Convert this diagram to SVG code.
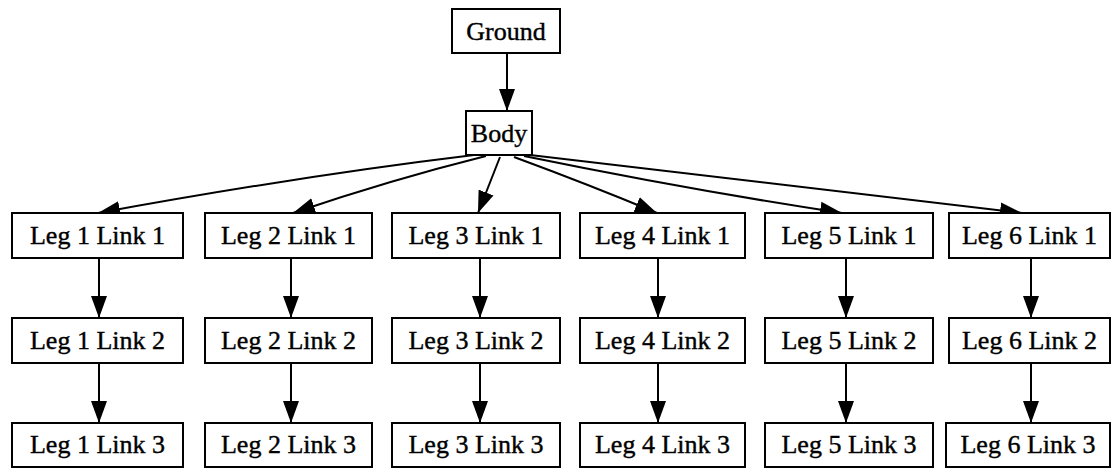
<svg xmlns="http://www.w3.org/2000/svg" width="1113" height="468" viewBox="0 0 1113 468">
<style>
.box{fill:#fff;stroke:#000;stroke-width:2}
.lbl{font-family:"Liberation Serif","Times New Roman",serif;font-size:26px;fill:#000;stroke:#000;stroke-width:0.4;text-anchor:middle}
.edge{fill:none;stroke:#000;stroke-width:2}
</style>
<defs>
<marker id="ah" markerUnits="userSpaceOnUse" markerWidth="22" markerHeight="17" refX="22" refY="8.5" orient="auto">
<path d="M0,0.5 L22,8.5 L0,16.5 z" fill="#000"/>
</marker>
</defs>
<rect width="1113" height="468" fill="#fff"/>
<g id="edges">
<path class="edge" marker-end="url(#ah)" d="M507,53 L507,111"/>
<path class="edge" marker-end="url(#ah)" d="M474,155 Q300,176 98,213"/>
<path class="edge" marker-end="url(#ah)" d="M486,156 Q390,180 293,213"/>
<path class="edge" marker-end="url(#ah)" d="M500,157 L478,213"/>
<path class="edge" marker-end="url(#ah)" d="M514,157 Q590,185 657,213"/>
<path class="edge" marker-end="url(#ah)" d="M524,156 Q690,190 842,213"/>
<path class="edge" marker-end="url(#ah)" d="M530,155 Q780,185 1022,213"/>
<path class="edge" marker-end="url(#ah)" d="M99,258 L99,318"/>
<path class="edge" marker-end="url(#ah)" d="M99,363 L99,423"/>
<path class="edge" marker-end="url(#ah)" d="M291,258 L291,318"/>
<path class="edge" marker-end="url(#ah)" d="M291,363 L291,423"/>
<path class="edge" marker-end="url(#ah)" d="M480,258 L480,318"/>
<path class="edge" marker-end="url(#ah)" d="M480,363 L480,423"/>
<path class="edge" marker-end="url(#ah)" d="M658,258 L658,318"/>
<path class="edge" marker-end="url(#ah)" d="M658,363 L658,423"/>
<path class="edge" marker-end="url(#ah)" d="M846,258 L846,318"/>
<path class="edge" marker-end="url(#ah)" d="M846,363 L846,423"/>
<path class="edge" marker-end="url(#ah)" d="M1031,258 L1031,318"/>
<path class="edge" marker-end="url(#ah)" d="M1031,363 L1031,423"/>
</g>
<g id="ground"><rect class="box" x="452" y="9" width="108" height="44"/><text class="lbl" x="506" y="40">Ground</text></g>
<g id="body"><rect class="box" x="466" y="111" width="66" height="44"/><text class="lbl" x="499" y="142">Body</text></g>

<g id="l1k1"><rect class="box" x="12" y="213" width="171" height="45"/><text class="lbl" x="97.5" y="244">Leg 1 Link 1</text></g>
<g id="l1k2"><rect class="box" x="12" y="318" width="171" height="45"/><text class="lbl" x="97.5" y="349">Leg 1 Link 2</text></g>
<g id="l1k3"><rect class="box" x="12" y="423" width="171" height="44"/><text class="lbl" x="97.5" y="453">Leg 1 Link 3</text></g>

<g id="l2k1"><rect class="box" x="205" y="213" width="167" height="45"/><text class="lbl" x="288.5" y="244">Leg 2 Link 1</text></g>
<g id="l2k2"><rect class="box" x="205" y="318" width="167" height="45"/><text class="lbl" x="288.5" y="349">Leg 2 Link 2</text></g>
<g id="l2k3"><rect class="box" x="205" y="423" width="167" height="44"/><text class="lbl" x="288.5" y="453">Leg 2 Link 3</text></g>

<g id="l3k1"><rect class="box" x="392" y="213" width="168" height="45"/><text class="lbl" x="476" y="244">Leg 3 Link 1</text></g>
<g id="l3k2"><rect class="box" x="392" y="318" width="168" height="45"/><text class="lbl" x="476" y="349">Leg 3 Link 2</text></g>
<g id="l3k3"><rect class="box" x="392" y="423" width="168" height="44"/><text class="lbl" x="476" y="453">Leg 3 Link 3</text></g>

<g id="l4k1"><rect class="box" x="580" y="213" width="165" height="45"/><text class="lbl" x="662.5" y="244">Leg 4 Link 1</text></g>
<g id="l4k2"><rect class="box" x="580" y="318" width="165" height="45"/><text class="lbl" x="662.5" y="349">Leg 4 Link 2</text></g>
<g id="l4k3"><rect class="box" x="580" y="423" width="165" height="44"/><text class="lbl" x="662.5" y="453">Leg 4 Link 3</text></g>

<g id="l5k1"><rect class="box" x="765" y="213" width="168" height="45"/><text class="lbl" x="849" y="244">Leg 5 Link 1</text></g>
<g id="l5k2"><rect class="box" x="765" y="318" width="168" height="45"/><text class="lbl" x="849" y="349">Leg 5 Link 2</text></g>
<g id="l5k3"><rect class="box" x="765" y="423" width="168" height="44"/><text class="lbl" x="849" y="453">Leg 5 Link 3</text></g>

<g id="l6k1"><rect class="box" x="949" y="213" width="161" height="45"/><text class="lbl" x="1029.5" y="244">Leg 6 Link 1</text></g>
<g id="l6k2"><rect class="box" x="949" y="318" width="161" height="45"/><text class="lbl" x="1029.5" y="349">Leg 6 Link 2</text></g>
<g id="l6k3"><rect class="box" x="946" y="423" width="164" height="44"/><text class="lbl" x="1028" y="453">Leg 6 Link 3</text></g>
</svg>
